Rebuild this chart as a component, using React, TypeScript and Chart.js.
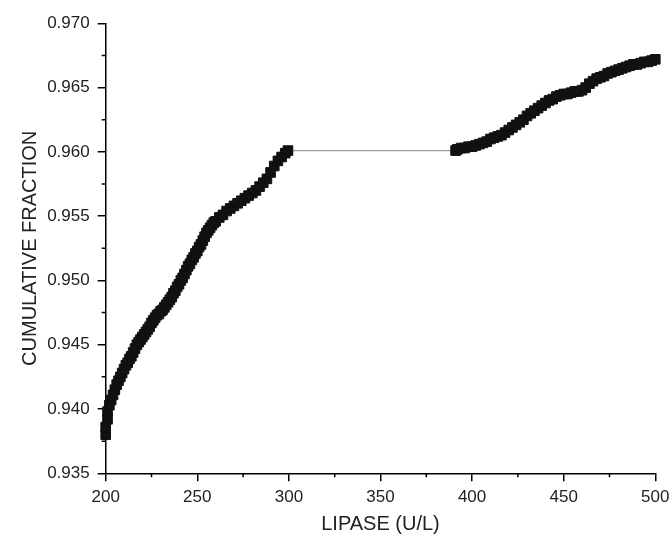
import React, { useEffect, useRef } from "react";
import { Chart, registerables } from "chart.js";

Chart.register(...registerables);

// Lipase values (U/L) and cumulative fraction, lower segment
const lipaseLow = [
  200, 200, 201, 201, 202, 203, 204, 205, 206, 207, 208, 209, 210, 211, 212, 213, 214, 215, 216, 217,
  218, 219, 220, 221, 222, 223, 224, 225, 226, 227, 228, 229, 230, 231, 232, 233, 234, 235, 236, 237,
  238, 239, 240, 241, 242, 243, 244, 245, 246, 247, 248, 249, 250, 251, 252, 253, 254, 255, 256, 257,
  258, 259, 260, 262, 264, 266, 268, 270, 272, 274, 276, 278, 280, 282, 284, 286, 288, 290, 292, 294,
  296, 298, 299.5,
];
const fractionLow = [
  0.9380, 0.9386, 0.9392, 0.9398, 0.9403, 0.9407, 0.9411, 0.9415, 0.9419, 0.9422, 0.9425, 0.9428, 0.9431, 0.9434, 0.9436, 0.9439, 0.9441, 0.9444, 0.9447, 0.9450,
  0.9452, 0.9454, 0.9456, 0.9458, 0.9460, 0.9462, 0.9464, 0.9467, 0.9469, 0.9471, 0.9473, 0.9474, 0.9476, 0.9477, 0.9479, 0.9481, 0.9483, 0.9485, 0.9487, 0.9490,
  0.9492, 0.9495, 0.9497, 0.9500, 0.9502, 0.9505, 0.9508, 0.9511, 0.9513, 0.9516, 0.9518, 0.9521, 0.9523, 0.9526, 0.9528, 0.9531, 0.9534, 0.9537, 0.9539, 0.9541,
  0.9543, 0.9545, 0.9546, 0.9549, 0.9551, 0.9554, 0.9556, 0.9558, 0.9560, 0.9562, 0.9564, 0.9566, 0.9568, 0.9570, 0.9573, 0.9576, 0.9579, 0.9584, 0.9589, 0.9593,
  0.9596, 0.9599, 0.9601,
];

// Upper segment
const lipaseHigh = [
  391, 392, 394, 396, 398, 400, 402, 404, 406, 408, 410, 412, 414, 416, 418, 420, 422, 424, 426, 428,
  430, 432, 434, 436, 438, 440, 442, 444, 446, 448, 450, 452, 454, 456, 458, 460, 462, 464, 466, 468,
  470, 472, 474, 476, 478, 480, 482, 484, 486, 488, 490, 492, 494, 496, 498, 500,
];
const fractionHigh = [
  0.9601, 0.9602, 0.9603, 0.9603, 0.9604, 0.9604, 0.9605, 0.9606, 0.9607, 0.9608, 0.9610, 0.9611, 0.9612, 0.9613, 0.9615, 0.9617, 0.9619, 0.9621, 0.9623, 0.9625,
  0.9628, 0.9630, 0.9632, 0.9634, 0.9636, 0.9638, 0.9640, 0.9641, 0.9643, 0.9644, 0.9645, 0.9645, 0.9646, 0.9647, 0.9647, 0.9648, 0.9650, 0.9653, 0.9655, 0.9657,
  0.9658, 0.9659, 0.9661, 0.9662, 0.9663, 0.9664, 0.9665, 0.9666, 0.9667, 0.9668, 0.9668, 0.9669, 0.9670, 0.9670, 0.9671, 0.9672,
];

const xTicks = [200, 250, 300, 350, 400, 450, 500];
const xMinorTicks = [225, 275, 325, 375, 425, 475];
const yTicks = [0.935, 0.94, 0.945, 0.95, 0.955, 0.96, 0.965, 0.97];
const yMinorTicks = [0.9375, 0.9425, 0.9475, 0.9525, 0.9575, 0.9625, 0.9675];

const FONT = "'Liberation Sans', Arial, Helvetica, sans-serif";

const minorTickPlugin = {
  id: "minorTicks",
  afterDraw(chart: any) {
    const { ctx, scales } = chart;
    const xs = scales.x;
    const ys = scales.y;
    ctx.save();
    ctx.strokeStyle = "#000";
    ctx.lineWidth = 1.5;
    ctx.beginPath();
    for (const v of xMinorTicks) {
      const px = xs.getPixelForValue(v);
      ctx.moveTo(px, ys.bottom);
      ctx.lineTo(px, ys.bottom + 4);
    }
    for (const v of yMinorTicks) {
      const py = ys.getPixelForValue(v);
      ctx.moveTo(xs.left, py);
      ctx.lineTo(xs.left - 4, py);
    }
    ctx.stroke();
    ctx.restore();
  },
};

export default function App() {
  const ref = useRef<HTMLCanvasElement | null>(null);

  useEffect(() => {
    if (!ref.current) return;
    const points = [
      ...lipaseLow.map((x, i) => ({ x, y: fractionLow[i] })),
      ...lipaseHigh.map((x, i) => ({ x, y: fractionHigh[i] })),
    ];
    const chart = new Chart(ref.current, {
      type: "scatter",
      data: {
        datasets: [
          {
            data: points,
            showLine: true,
            borderColor: "#9a9a9a",
            borderWidth: 1.2,
            pointStyle: "rect",
            pointRadius: 6.8,
            pointBorderWidth: 1,
            pointBackgroundColor: "#111",
            pointBorderColor: "#111",
            clip: false as any,
          } as any,
        ],
      },
      options: {
        animation: false,
        responsive: false,
        maintainAspectRatio: false,
        events: [],
        layout: { padding: { left: 0, right: 16.7, top: 23.3, bottom: 0 } },
        plugins: { legend: { display: false }, tooltip: { enabled: false } },
        scales: {
          x: {
            type: "linear",
            min: 200,
            max: 500,
            afterFit: (s: any) => {
              s.height = 67.7;
              s.paddingLeft = 0;
              s.paddingRight = 0;
            },
            afterBuildTicks: (s: any) => {
              s.ticks = xTicks.map((v) => ({ value: v }));
            },
            border: { display: true, color: "#000", width: 1.5 },
            grid: { display: true, drawOnChartArea: false, drawTicks: true, tickLength: 8, color: "#000", lineWidth: 1.5 },
            ticks: {
              color: "#222",
              font: { family: FONT, size: 17 },
              padding: 6,
              maxRotation: 0,
              callback: (v: any) => String(v),
            },
            title: {
              display: true,
              text: "LIPASE (U/L)",
              color: "#222",
              font: { family: FONT, size: 20 },
              padding: { top: 0, bottom: 5 },
            },
          },
          y: {
            type: "linear",
            min: 0.935,
            max: 0.97,
            afterFit: (s: any) => {
              s.width = 105.7;
              s.paddingTop = 0;
              s.paddingBottom = 0;
            },
            afterBuildTicks: (s: any) => {
              s.ticks = yTicks.map((v) => ({ value: v }));
            },
            border: { display: true, color: "#000", width: 1.5 },
            grid: { display: true, drawOnChartArea: false, drawTicks: true, tickLength: 8, color: "#000", lineWidth: 1.5 },
            ticks: {
              color: "#222",
              font: { family: FONT, size: 17 },
              padding: 8,
              callback: (v: any) => Number(v).toFixed(3),
            },
            title: {
              display: true,
              text: "CUMULATIVE FRACTION",
              color: "#222",
              font: { family: FONT, size: 20 },
              padding: { top: 18, bottom: 0 },
            },
          },
        },
      },
      plugins: [minorTickPlugin],
    });
    return () => chart.destroy();
  }, []);

  return (
    <div style={{ position: "absolute", left: 0, top: 0, width: 672, height: 541, background: "#fff" }}>
      <canvas ref={ref} width={672} height={541} style={{ width: 672, height: 541, display: "block" }} />
    </div>
  );
}
